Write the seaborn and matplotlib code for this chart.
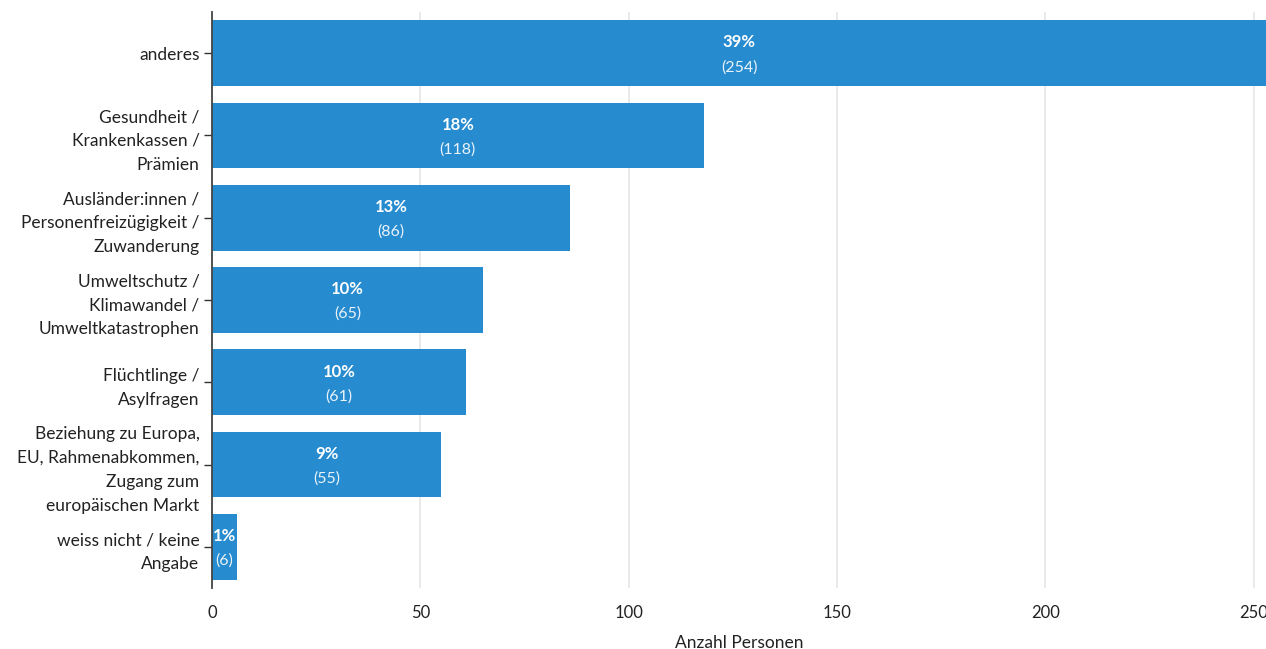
import pandas as pd
import matplotlib
matplotlib.use("Agg")
import matplotlib.pyplot as plt
import seaborn as sns

# Daten
kategorien = [
    "anderes",
    "Gesundheit /\nKrankenkassen /\nPrämien",
    "Ausländer:innen /\nPersonenfreizügigkeit /\nZuwanderung",
    "Umweltschutz /\nKlimawandel /\nUmweltkatastrophen",
    "Flüchtlinge /\nAsylfragen",
    "Beziehung zu Europa,\nEU, Rahmenabkommen,\nZugang zum\neuropäischen Markt",
    "weiss nicht / keine\nAngabe",
]
anzahl = [254, 118, 86, 65, 61, 55, 6]
prozent = [39, 18, 13, 10, 10, 9, 1]

df = pd.DataFrame({"kategorie": kategorien, "anzahl": anzahl, "prozent": prozent})

sns.set_theme(style="white")
plt.rcParams['font.family'] = ['Lato', 'DejaVu Sans']

fig = plt.figure(figsize=(12.66, 6.49), dpi=100)
ax = fig.add_axes([0.1675, 0.094, 0.8325, 0.8875])

sns.barplot(data=df, y="kategorie", x="anzahl", color="#268BCF", saturation=1,
            width=0.8, orient="h", ax=ax, zorder=2, linewidth=0)

ax.set_xlim(0, 253)
ax.set_ylim(6.5, -0.5)
ax.set_xticks([0, 50, 100, 150, 200, 250])
ax.grid(axis="x", color="#e6e6e6", linewidth=1.2, zorder=0)
ax.set_axisbelow(True)

for s in ["top", "right", "bottom"]:
    ax.spines[s].set_visible(False)
ax.spines["left"].set_color("#444444")
ax.spines["left"].set_linewidth(1.3)

ax.tick_params(axis="y", left=True, length=6, width=1, color="#333333",
               labelsize=12.5, labelcolor="#222222", pad=3)
ax.tick_params(axis="x", bottom=False, labelsize=12, labelcolor="#222222", pad=6)
for lbl in ax.get_yticklabels():
    lbl.set_multialignment("right")
    lbl.set_linespacing(1.6)

ax.set_ylabel("")
ax.set_xlabel("Anzahl Personen", fontsize=12.5, color="#222222")
ax.xaxis.set_label_coords(0.5, -(635 - 588) / 576)

for i, (n, p) in enumerate(zip(anzahl, prozent)):
    xm = min(n, 253) / 2
    ax.text(xm, i - 0.13, f"{p}%", ha="center", va="center", color="white",
            fontsize=12, fontweight="bold", zorder=3)
    ax.text(xm, i + 0.17, f"({n})", ha="center", va="center", color="#eaf3fa",
            fontsize=11.5, zorder=3)

fig.savefig("out.png", dpi=100)
